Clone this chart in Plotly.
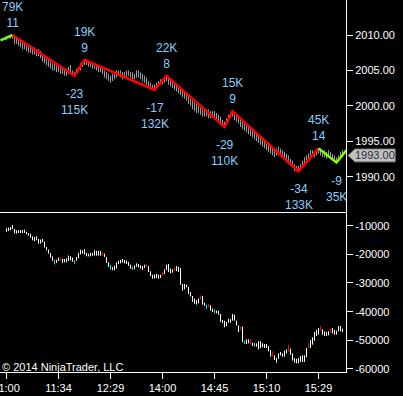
import plotly.graph_objects as go

# ---------------- data ----------------
x_tick_idx = [0, 26, 52, 78, 104, 130, 156]
x_tick_labels = ["11:00", "11:34", "12:29", "14:00", "14:45", "15:10", "15:29"]

price_ticks = [1990, 1995, 2000, 2005, 2010]
cd_ticks = [-10000, -20000, -30000, -40000, -50000, -60000]

px_high = [
    2009.75, 2009.75, 2010.0, 2010.0, 2009.75, 2009.75, 2009.5, 2009.25, 2009.0, 2009.0,
    2008.75, 2008.5, 2008.5, 2008.25, 2008.25, 2008.0, 2008.0, 2007.75, 2007.25, 2007.0,
    2006.75, 2006.5, 2006.25, 2006.0, 2006.0, 2005.75, 2005.75, 2005.5, 2005.5, 2005.25,
    2005.25, 2005.5, 2005.75, 2005.0, 2004.75, 2005.25, 2005.5, 2006.0, 2006.25, 2006.5,
    2006.5, 2006.25, 2006.25, 2006.0, 2005.75, 2005.75, 2005.5, 2005.5, 2005.25, 2005.0,
    2004.75, 2004.5, 2004.25, 2004.5, 2004.75, 2005.0, 2005.0, 2005.0, 2004.75, 2004.75,
    2005.0, 2005.0, 2004.75, 2004.75, 2004.5, 2005.0, 2005.0, 2004.75, 2004.5, 2004.25,
    2004.0, 2003.5, 2003.25, 2003.0, 2003.0, 2003.25, 2003.5, 2003.75, 2003.75, 2004.0,
    2004.25, 2004.0, 2003.75, 2003.5, 2003.25, 2003.0, 2002.75, 2002.5, 2002.25, 2002.0,
    2001.75, 2001.5, 2001.0, 2000.75, 2000.5, 2000.25, 2000.0, 1999.75, 1999.5, 1999.5,
    1999.5, 1999.5, 1999.25, 1999.25, 1999.25, 1999.0, 1998.75, 1998.5, 1998.0, 1997.75,
    1998.25, 1998.75, 1999.0, 1999.25, 1999.0, 1998.75, 1998.25, 1998.0, 1997.75, 1997.5,
    1997.25, 1997.0, 1996.75, 1996.5, 1996.25, 1996.0, 1995.75, 1995.5, 1995.25, 1995.0,
    1994.75, 1994.5, 1994.25, 1994.0, 1993.75, 1994.0, 1994.25, 1994.0, 1993.75, 1993.5,
    1993.25, 1993.0, 1992.5, 1992.25, 1991.75, 1991.5, 1991.5, 1991.75, 1992.25, 1992.75,
    1993.0, 1993.25, 1993.75, 1993.75, 1993.5, 1993.75, 1994.0, 1994.0, 1993.75, 1993.75,
    1993.5, 1993.75, 1993.5, 1993.25, 1993.0, 1992.75, 1993.0, 1993.5, 1993.75,
]
px_low = [
    2009.25, 2009.5, 2009.5, 2009.5, 2008.75, 2008.75, 2008.5, 2008.25, 2008.0, 2008.0,
    2007.75, 2007.5, 2007.5, 2007.25, 2007.25, 2007.0, 2007.0, 2006.75, 2006.25, 2006.0,
    2005.75, 2005.5, 2005.25, 2005.0, 2005.0, 2004.75, 2004.75, 2004.5, 2004.5, 2004.25,
    2004.25, 2004.5, 2004.5, 2004.25, 2004.25, 2004.5, 2004.75, 2005.0, 2005.5, 2005.75,
    2005.75, 2005.5, 2005.5, 2005.25, 2005.25, 2005.0, 2004.75, 2004.75, 2004.5, 2004.0,
    2003.75, 2003.5, 2003.25, 2003.5, 2003.75, 2004.0, 2004.25, 2004.0, 2003.75, 2004.0,
    2004.0, 2004.25, 2004.0, 2003.75, 2003.75, 2004.0, 2004.0, 2003.75, 2003.5, 2003.25,
    2003.0, 2002.75, 2002.5, 2002.5, 2002.25, 2002.5, 2002.75, 2003.0, 2003.0, 2003.25,
    2003.5, 2003.0, 2002.75, 2002.5, 2002.25, 2002.0, 2001.75, 2001.5, 2001.25, 2001.0,
    2000.75, 2000.25, 2000.0, 1999.5, 1999.25, 1999.0, 1999.0, 1998.75, 1998.5, 1998.5,
    1998.5, 1998.25, 1998.25, 1998.5, 1998.25, 1998.0, 1997.75, 1997.5, 1997.25, 1997.0,
    1997.25, 1997.75, 1998.25, 1998.5, 1998.0, 1997.75, 1997.5, 1997.0, 1996.75, 1996.5,
    1996.25, 1996.0, 1995.75, 1995.5, 1995.25, 1995.0, 1994.75, 1994.5, 1994.25, 1994.0,
    1993.75, 1993.5, 1993.25, 1993.0, 1992.75, 1993.0, 1993.25, 1993.0, 1992.75, 1992.5,
    1992.0, 1991.75, 1991.5, 1991.25, 1990.75, 1990.75, 1990.75, 1991.0, 1991.25, 1991.5,
    1992.0, 1992.25, 1992.5, 1992.75, 1992.75, 1993.0, 1993.25, 1993.0, 1992.75, 1992.75,
    1992.5, 1992.75, 1992.5, 1992.25, 1992.0, 1992.0, 1992.25, 1992.5, 1992.75,
]

# zigzag swing points (bar index, price)
zz_idx = [-3, 3, 34, 39, 74, 80, 109, 113, 146, 156, 165, 170]
zz_px = [2009.25, 2010.0, 2004.25, 2006.5, 2002.25, 2004.25, 1997.0, 1999.25, 1990.75, 1994.0, 1992.0, 1993.75]

peak_idx = [3, 39, 80, 113, 156]
peak_px = [2010.0, 2006.5, 2004.25, 1999.25, 1994.0]
peak_vol = ["79K", "19K", "22K", "15K", "45K"]
peak_cnt = ["11", "9", "8", "9", "14"]

low_idx = [34, 74, 109, 146, 165]
low_px = [2004.25, 2002.25, 1997.0, 1990.75, 1992.0]
low_delta = ["-23", "-17", "-29", "-34", "-9"]
low_vol = ["115K", "132K", "110K", "133K", "35K"]

last_price = 1993.00

cd_high = [
    -10900, -10700, -10450, -9750, -11150, -11600, -11600, -11500, -11500, -11400,
    -12100, -12550, -12800, -13700, -13950, -13700, -14650, -14850, -14650, -15550,
    -17450, -18350, -19500, -20700, -21850, -21850, -21150, -21150, -21600, -21600,
    -21400, -20450, -20700, -21150, -22100, -20900, -19500, -18350, -18600, -18150,
    -19500, -19750, -19500, -19500, -18600, -18800, -18800, -18800, -19300, -19750,
    -20900, -22800, -23700, -24400, -23950, -22800,
    -22200, -21950, -21600, -21950, -22200, -22650, -23600, -24300, -23850, -23150,
    -23350, -23850, -24050, -23600, -23350, -24050, -25900, -27100, -27100, -26850,
    -27100, -27100, -26150, -25250, -23600, -23350, -24990, -25250, -24550, -24050,
    -24300, -24750, -30350, -30350, -30600, -31300, -33150, -34550, -35450, -35950,
    -35450, -34300, -34550, -36850, -37550, -37300, -37800, -38950, -39200, -39650,
    -39650, -40800, -42900, -43150, -43600, -42450, -42650, -40800, -41050,
    -43140, -44770, -45250, -45250, -50120, -49650, -49650, -49650, -50820, -50820,
    -51050, -50350, -50350, -51050, -51280, -51280, -51980, -53380, -53840, -55240,
    -56170, -54540, -54070, -54540, -53610, -53140, -51520, -52910, -54540, -56170,
    -56400, -56170, -55470, -55240, -55240, -52680, -51050, -49890, -48960, -47100,
    -46400, -45700, -45000, -46170, -46860, -47100, -46860, -45930, -45700, -46400,
    -46630, -45000, -45000, -45930,
]
cd_low = [
    -12100, -11850, -11600, -11150, -12650, -12800, -12550, -12550, -12550, -12550,
    -13000, -13500, -14200, -15100, -15350, -15100, -16250, -16250, -15800, -17650,
    -18600, -19750, -21150, -22300, -23500, -23000, -22300, -22300, -23000, -22800,
    -22800, -22300, -22100, -22550, -23250, -22300, -21400, -20000, -19750, -20000,
    -20700, -20700, -20700, -20450, -20450, -20450, -20450, -20450, -20700, -20900,
    -23000, -24400, -25350, -25550, -25550, -24900,
    -23350, -23150, -22900, -23150, -23350, -24050, -24990, -25450, -25250, -24300,
    -24550, -24990, -25450, -24750, -24550, -26150, -27550, -28500, -28500, -28250,
    -28500, -28250, -27550, -26850, -25450, -26150, -26600, -26400, -25900, -25900,
    -26150, -30600, -32650, -32200, -31500, -33850, -34750, -36600, -37300, -37550,
    -37100, -35700, -37550, -38000, -38950, -38500, -39650, -40100, -40600, -40600,
    -41050, -43600, -44050, -45450, -44990, -43850, -43850, -43150, -43150,
    -44770, -47100, -46400, -50600, -51280, -51280, -51050, -51520, -51980, -52210,
    -52210, -53140, -52680, -52450, -52680, -52680, -53840, -55700, -55700, -56870,
    -57800, -56400, -55240, -55700, -55700, -54540, -54070, -55000, -57100, -57800,
    -58030, -58030, -57560, -57560, -57560, -55940, -52910, -52680, -51520, -50120,
    -48490, -48030, -46630, -48030, -48490, -48490, -48260, -47560, -47560, -48030,
    -48030, -46860, -46860, -47100,
]
cd_red_idx = [27, 48, 70, 78, 84, 97, 101, 117, 122, 133, 141, 151, 157, 162]
cd_cyan_idx = [24, 34, 52, 63, 100, 104, 119, 124]

# ---------------- helpers ----------------
def segments(idx_list, hi, lo):
    xs, ys = [], []
    for i in idx_list:
        xs += [i, i, None]
        ys += [lo[i], hi[i], None]
    return xs, ys

FONT = "Liberation Sans, Arial, sans-serif"
LABEL_C = "#87cefa"

fig = go.Figure()

# price bars (top panel)
bx, by = segments(range(len(px_high)), px_high, px_low)
fig.add_trace(go.Scatter(x=bx, y=by, mode="lines", line=dict(color="#9a9a9a", width=1),
                         xaxis="x", yaxis="y", hoverinfo="skip", showlegend=False))

# zigzag
def zz_trace(a, b, color):
    return go.Scatter(x=zz_idx[a:b], y=zz_px[a:b], mode="lines",
                      line=dict(color=color, width=2.5), xaxis="x", yaxis="y",
                      hoverinfo="skip", showlegend=False)

fig.add_trace(zz_trace(0, 2, "#7cfc00"))
fig.add_trace(zz_trace(1, 10, "#ff0000"))
fig.add_trace(zz_trace(9, 12, "#7cfc00"))

# cumulative delta bars (bottom panel)
all_idx = list(range(len(cd_high)))
white_idx = [i for i in all_idx if i not in cd_red_idx and i not in cd_cyan_idx]
for ids, col in [(white_idx, "#ffffff"), (cd_red_idx, "#ff0000"), (cd_cyan_idx, "#00e5ff")]:
    sx, sy = segments(ids, cd_high, cd_low)
    fig.add_trace(go.Scatter(x=sx, y=sy, mode="lines", line=dict(color=col, width=1),
                             xaxis="x2", yaxis="y2", hoverinfo="skip", showlegend=False))

annotations = []
for i, p, v, c in zip(peak_idx, peak_px, peak_vol, peak_cnt):
    annotations.append(dict(x=i, y=p, xref="x", yref="y", text=f"{v}<br>{c}", showarrow=False,
                            yanchor="bottom", yshift=3, font=dict(family=FONT, size=12, color=LABEL_C)))
for i, p, d, v in zip(low_idx, low_px, low_delta, low_vol):
    annotations.append(dict(x=i, y=p, xref="x", yref="y", text=f"{d}<br>{v}", showarrow=False,
                            yanchor="top", yshift=-9, font=dict(family=FONT, size=12, color=LABEL_C)))

# last price marker
box_l, box_r, tip = 1.026, 1.142, 1.006
h = 0.9
annotations.append(dict(x=(box_l + box_r) / 2, y=last_price, xref="paper", yref="y",
                        text=f"{last_price:.2f}", showarrow=False, xanchor="center", yanchor="middle",
                        font=dict(family=FONT, size=11, color="#2a2a3a")))
annotations.append(dict(x=0, y=0, xref="paper", yref="paper", text="\u00a9 2014 NinjaTrader, LLC",
                        showarrow=False, xanchor="left", yanchor="bottom", yshift=-3,
                        font=dict(family=FONT, size=11, color="#ffffff")))

shapes = [dict(type="path", xref="paper", yref="y",
               path=(f"M {tip},{last_price} L {box_l},{last_price + h} L {box_r},{last_price + h} "
                     f"L {box_r},{last_price - h} L {box_l},{last_price - h} Z"),
               fillcolor="#c0c0c0", line=dict(color="#8a8a8a", width=1), layer="above")]

xr = [-3.25, 169.75]
split = 0.4288
axis_font = dict(family=FONT, size=11, color="#ffffff")

fig.update_layout(
    width=403, height=396,
    margin=dict(l=0, r=57, t=0, b=24, autoexpand=False),
    paper_bgcolor="#000000", plot_bgcolor="#000000",
    showlegend=False,
    xaxis=dict(domain=[0, 1], range=xr, anchor="y", showticklabels=False, ticks="",
               showline=True, linecolor="#ffffff", linewidth=1, showgrid=False, zeroline=False,
               automargin=False),
    xaxis2=dict(domain=[0, 1], range=xr, anchor="y2", tickvals=x_tick_idx, ticktext=x_tick_labels,
                ticks="outside", ticklen=6, tickcolor="#ffffff", showline=True, linecolor="#ffffff",
                linewidth=1, showgrid=False, zeroline=False, tickfont=axis_font,
                ticklabeloverflow="allow", automargin=False),
    yaxis=dict(domain=[split, 1], range=[1984.95, 2014.94], anchor="x", side="right",
               tickvals=price_ticks, ticktext=[f"{v:.2f}" for v in price_ticks],
               ticks="outside", ticklen=6, tickcolor="#ffffff", showline=True, linecolor="#ffffff",
               linewidth=1, showgrid=False, zeroline=False, tickfont=axis_font, automargin=False),
    yaxis2=dict(domain=[0, split], range=[-61059, -5393], anchor="x2", side="right",
                tickvals=cd_ticks, ticktext=[str(v) for v in cd_ticks],
                ticks="outside", ticklen=6, tickcolor="#ffffff", showline=True, linecolor="#ffffff",
                linewidth=1, showgrid=False, zeroline=False, tickfont=axis_font, automargin=False),
    annotations=annotations,
    shapes=shapes,
)

fig.write_html("out.html", config={"displayModeBar": False},
               post_script="document.body.style.margin='0px';document.body.style.background='#000';")
